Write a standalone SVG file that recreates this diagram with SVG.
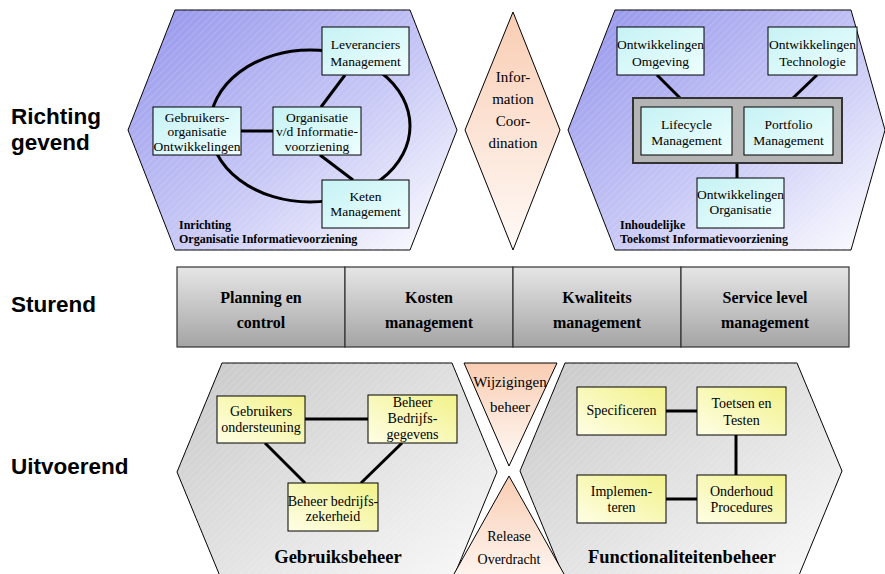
<svg xmlns="http://www.w3.org/2000/svg" width="885" height="574" viewBox="0 0 885 574">
<defs>
<linearGradient id="gBlue" x1="0" y1="0" x2="1" y2="1"><stop offset="0" stop-color="#9494ec"/><stop offset="0.55" stop-color="#c8c8f6"/><stop offset="1" stop-color="#ffffff"/></linearGradient>
<linearGradient id="gCyan" x1="0" y1="0" x2="1" y2="1"><stop offset="0" stop-color="#c6f2f4"/><stop offset="1" stop-color="#eefefe"/></linearGradient>
<linearGradient id="gPeach" x1="0" y1="0" x2="0" y2="1"><stop offset="0" stop-color="#f9cdb3"/><stop offset="1" stop-color="#fffaf7"/></linearGradient>
<linearGradient id="gBar" x1="0" y1="0" x2="0" y2="1"><stop offset="0" stop-color="#e6e6e6"/><stop offset="1" stop-color="#a4a4a4"/></linearGradient>
<linearGradient id="gGray" x1="0" y1="0" x2="1" y2="1"><stop offset="0" stop-color="#c8c8c8"/><stop offset="1" stop-color="#fafafa"/></linearGradient>
<linearGradient id="gYellow" x1="0" y1="1" x2="1" y2="0"><stop offset="0" stop-color="#fefee6"/><stop offset="1" stop-color="#f2f28a"/></linearGradient>
<pattern id="hatch" width="5" height="5" patternUnits="userSpaceOnUse" patternTransform="rotate(45)"><line x1="0" y1="0" x2="0" y2="5" stroke="#ffffff" stroke-width="0.8" opacity="0.35"/></pattern>
<style>
.hex{stroke:#000;stroke-width:1}
.hatch{fill:url(#hatch);stroke:none}
.cyan{fill:url(#gCyan);stroke:#000;stroke-width:1}
.yel{fill:url(#gYellow);stroke:#000;stroke-width:1}
.bar{fill:url(#gBar);stroke:#333;stroke-width:1.2}
.t{font-family:"Liberation Serif","Times New Roman",serif;font-size:13.5px;fill:#000;text-anchor:middle}
.tb{font-family:"Liberation Serif","Times New Roman",serif;font-size:14px;fill:#000;text-anchor:middle}
.tw{font-family:"Liberation Serif","Times New Roman",serif;font-size:15px;fill:#000;text-anchor:middle}
.tbar{font-family:"Liberation Serif","Times New Roman",serif;font-size:16px;font-weight:bold;fill:#000;text-anchor:middle}
.tl{font-family:"Liberation Serif","Times New Roman",serif;font-size:12px;font-weight:bold;fill:#000}
.big{font-family:"Liberation Serif","Times New Roman",serif;font-size:18.5px;font-weight:bold;fill:#000;text-anchor:middle}
.side{font-family:"Liberation Sans",Arial,sans-serif;font-size:22.5px;font-weight:bold;fill:#000}
.c{fill:none;stroke:#000;stroke-width:3}
</style>
</defs>
<rect width="885" height="574" fill="#ffffff"/>

<g id="labels">
<text class="side" x="11" y="124">Richting</text>
<text class="side" x="11" y="150">gevend</text>
<text class="side" x="11" y="312">Sturend</text>
<text class="side" x="11" y="474">Uitvoerend</text>
</g>

<g id="hex-inrichting">
<polygon class="hex" fill="url(#gBlue)" points="128,130 175,10 410,10 457,130 410,250 175,250"/>
<polygon class="hatch" points="128,130 175,10 410,10 457,130 410,250 175,250"/>
<text class="tl" x="179" y="229">Inrichting</text>
<text class="tl" x="179" y="243">Organisatie Informatievoorziening</text>
</g>

<g id="diamond-coordination">
<polygon class="hex" fill="url(#gPeach)" points="513,12 560,130 513,250 465,130"/>
<text class="tw" x="513" y="82">Infor-</text>
<text class="tw" x="513" y="104">mation</text>
<text class="tw" x="513" y="126">Coor-</text>
<text class="tw" x="513" y="148">dination</text>
</g>

<g id="hex-inhoudelijke">
<polygon class="hex" fill="url(#gBlue)" points="568,130 615,10 851,10 885,130 851,250 615,250"/>
<polygon class="hatch" points="568,130 615,10 851,10 885,130 851,250 615,250"/>
<text class="tl" x="620" y="229">Inhoudelijke</text>
<text class="tl" x="620" y="243">Toekomst Informatievoorziening</text>
</g>

<g id="connectors">
<ellipse class="c" cx="310" cy="126" rx="100" ry="76"/>
<line class="c" x1="241" y1="131" x2="273" y2="131" stroke-width="4.5"/>
<line class="c" x1="321" y1="107" x2="345" y2="75"/>
<line class="c" x1="320" y1="155" x2="353" y2="180"/>
<line class="c" x1="657" y1="75" x2="680" y2="98"/>
<line class="c" x1="817" y1="75" x2="793" y2="98"/>
<line class="c" x1="737" y1="163" x2="737" y2="178"/>
</g>

<g id="node-leveranciers">
<rect class="cyan" x="322" y="27" width="87" height="48"/>
<text class="t" x="365.5" y="49">Leveranciers</text>
<text class="t" x="365.5" y="66">Management</text>
</g>
<g id="node-gebruikersorganisatie">
<rect class="cyan" x="153" y="107" width="88" height="48"/>
<text class="t" x="197" y="122">Gebruikers-</text>
<text class="t" x="197" y="136">organisatie</text>
<text class="t" x="197" y="151">Ontwikkelingen</text>
</g>
<g id="node-organisatie">
<rect class="cyan" x="273" y="107" width="88" height="48"/>
<text class="t" x="317" y="122">Organisatie</text>
<text class="t" x="317" y="136">v/d Informatie-</text>
<text class="t" x="317" y="151">voorziening</text>
</g>
<g id="node-keten">
<rect class="cyan" x="322" y="180" width="87" height="48"/>
<text class="t" x="365.5" y="201">Keten</text>
<text class="t" x="365.5" y="216">Management</text>
</g>

<g id="node-omgeving">
<rect class="cyan" x="617" y="27" width="87" height="48"/>
<text class="t" x="660.5" y="49">Ontwikkelingen</text>
<text class="t" x="660.5" y="66">Omgeving</text>
</g>
<g id="node-technologie">
<rect class="cyan" x="768" y="27" width="89" height="48"/>
<text class="t" x="812.5" y="49">Ontwikkelingen</text>
<text class="t" x="812.5" y="66">Technologie</text>
</g>
<g id="node-container">
<rect x="633" y="98" width="209" height="65" fill="#b4b4b4" stroke="#333" stroke-width="2"/>
</g>
<g id="node-lifecycle">
<rect class="cyan" x="641" y="107" width="91" height="48"/>
<text class="t" x="686.5" y="129">Lifecycle</text>
<text class="t" x="686.5" y="145">Management</text>
</g>
<g id="node-portfolio">
<rect class="cyan" x="744" y="107" width="89" height="48"/>
<text class="t" x="788.5" y="129">Portfolio</text>
<text class="t" x="788.5" y="145">Management</text>
</g>
<g id="node-orgontw">
<rect class="cyan" x="697" y="178" width="87" height="50"/>
<text class="t" x="740.5" y="199">Ontwikkelingen</text>
<text class="t" x="740.5" y="214">Organisatie</text>
</g>

<g id="node-planning">
<rect class="bar" x="177" y="267" width="168" height="80"/>
<text class="tbar" x="261" y="303">Planning en</text>
<text class="tbar" x="261" y="328">control</text>
</g>
<g id="node-kosten">
<rect class="bar" x="345" y="267" width="168" height="80"/>
<text class="tbar" x="429" y="303">Kosten</text>
<text class="tbar" x="429" y="328">management</text>
</g>
<g id="node-kwaliteit">
<rect class="bar" x="513" y="267" width="168" height="80"/>
<text class="tbar" x="597" y="303">Kwaliteits</text>
<text class="tbar" x="597" y="328">management</text>
</g>
<g id="node-servicelevel">
<rect class="bar" x="681" y="267" width="168" height="80"/>
<text class="tbar" x="765" y="303">Service level</text>
<text class="tbar" x="765" y="328">management</text>
</g>

<g id="hex-gebruiksbeheer">
<polygon class="hex" fill="url(#gGray)" points="177,472 222,363 452,363 497,472 452,581 222,581"/>
<polygon class="hatch" points="177,472 222,363 452,363 497,472 452,581 222,581"/>
<text class="big" x="338" y="563">Gebruiksbeheer</text>
</g>
<g id="hex-functionaliteitenbeheer">
<polygon class="hex" fill="url(#gGray)" points="520,471 565,363 797,363 842,471 797,580 565,580"/>
<polygon class="hatch" points="520,471 565,363 797,363 842,471 797,580 565,580"/>
<text class="big" x="682" y="563">Functionaliteitenbeheer</text>
</g>
<g id="tri-wijzigingen">
<polygon class="hex" fill="url(#gPeach)" points="464,363 557,363 509,466"/>
<text class="tw" x="510" y="387">Wijzigingen</text>
<text class="tw" x="510" y="412">beheer</text>
</g>
<g id="tri-release">
<polygon class="hex" fill="url(#gPeach)" points="509,476 573,590 445,590"/>
<text class="tb" x="509" y="541">Release</text>
<text class="tb" x="509" y="564">Overdracht</text>
</g>

<g id="connectors-bottom">
<line class="c" x1="305" y1="419" x2="368" y2="419"/>
<line class="c" x1="265" y1="443" x2="305" y2="483"/>
<line class="c" x1="402" y1="443" x2="361" y2="483"/>
<line class="c" x1="666" y1="411" x2="697" y2="411"/>
<line class="c" x1="736" y1="435" x2="736" y2="475"/>
<line class="c" x1="666" y1="499" x2="697" y2="499"/>
</g>

<g id="node-gebruikersondersteuning">
<rect class="yel" x="217" y="396" width="88" height="47"/>
<text class="tb" x="261" y="416">Gebruikers</text>
<text class="tb" x="261" y="432">ondersteuning</text>
</g>
<g id="node-bedrijfsgegevens">
<rect class="yel" x="368" y="395" width="89" height="48"/>
<text class="tb" x="412.5" y="407">Beheer</text>
<text class="tb" x="412.5" y="423">Bedrijfs-</text>
<text class="tb" x="412.5" y="439">gegevens</text>
</g>
<g id="node-bedrijfszekerheid">
<rect class="yel" x="288" y="483" width="90" height="48"/>
<text class="tb" x="333" y="506">Beheer bedrijfs-</text>
<text class="tb" x="333" y="521">zekerheid</text>
</g>
<g id="node-specificeren">
<rect class="yel" x="577" y="387" width="89" height="48"/>
<text class="tb" x="621.5" y="415">Specificeren</text>
</g>
<g id="node-toetsen">
<rect class="yel" x="697" y="387" width="89" height="48"/>
<text class="tb" x="741.5" y="408">Toetsen en</text>
<text class="tb" x="741.5" y="425">Testen</text>
</g>
<g id="node-implementeren">
<rect class="yel" x="577" y="475" width="89" height="48"/>
<text class="tb" x="621.5" y="496">Implemen-</text>
<text class="tb" x="621.5" y="512">teren</text>
</g>
<g id="node-onderhoud">
<rect class="yel" x="697" y="475" width="89" height="48"/>
<text class="tb" x="741.5" y="496">Onderhoud</text>
<text class="tb" x="741.5" y="512">Procedures</text>
</g>
</svg>
